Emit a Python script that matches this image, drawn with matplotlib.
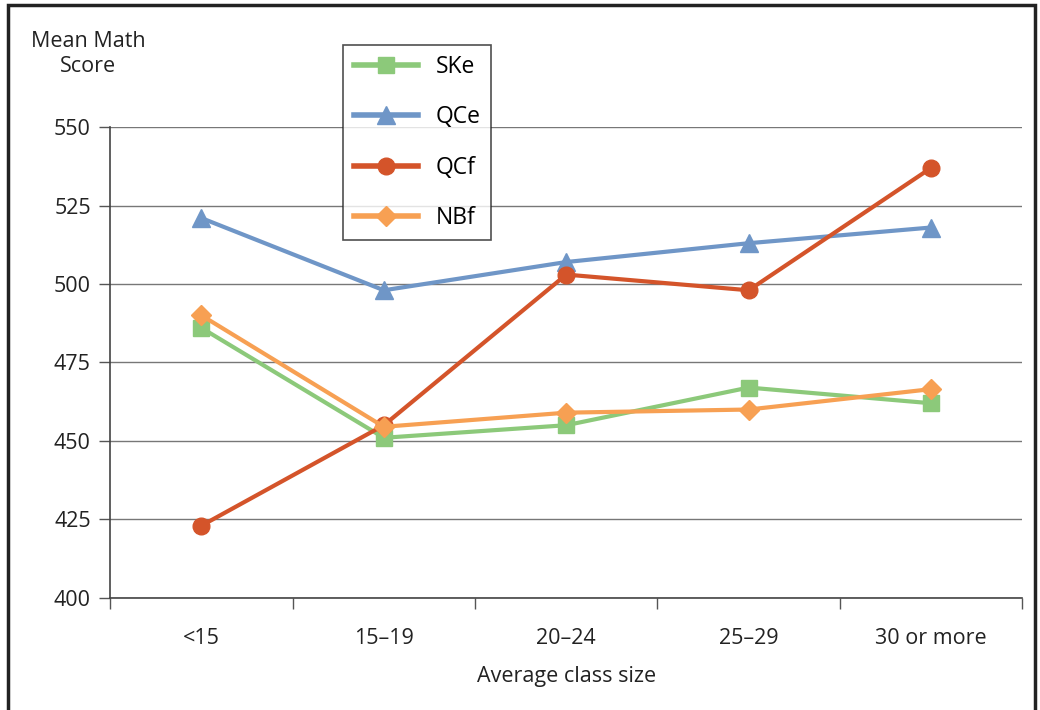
import matplotlib.pyplot as plt
from matplotlib.patches import Rectangle

plt.rcParams['font.family'] = ['Open Sans', 'DejaVu Sans']

# Data
categories = ['<15', '15\u201319', '20\u201324', '25\u201329', '30 or more']
ske = [486, 451, 455, 467, 462]
qce = [521, 498, 507, 513, 518]
qcf = [423, 455, 503, 498, 537]
nbf = [490, 454.5, 459, 460, 466.5]

fig = plt.figure(figsize=(10.4, 7.1), dpi=100)
ax = fig.add_axes([0.106, 0.158, 0.877, 0.663])

x = range(len(categories))
ax.plot(x, ske, color='#8cc97a', lw=3, marker='s', ms=12, label='SKe', zorder=3)
ax.plot(x, qce, color='#6f96c7', lw=3, marker='^', ms=13, label='QCe', zorder=3)
ax.plot(x, qcf, color='#d4542a', lw=3, marker='o', ms=12, label='QCf', zorder=4)
ax.plot(x, nbf, color='#f7a053', lw=3, marker='D', ms=10, label='NBf', zorder=5)

ax.set_xlim(-0.5, 4.5)
ax.set_ylim(400, 550)
ax.set_yticks(range(400, 551, 25))
ax.set_xticks([i - 0.5 for i in range(6)])
ax.set_xticklabels([])
ax.set_xticks(list(x), minor=True)
ax.set_xticklabels(categories, minor=True)
ax.tick_params(axis='x', which='major', length=8, color='#555555', width=1)
ax.tick_params(axis='x', which='minor', length=0, pad=22, labelsize=15.5, labelcolor='#222222')
ax.tick_params(axis='y', length=8, color='#555555', width=1, labelsize=15.5, labelcolor='#222222', pad=6)
ax.yaxis.grid(True, color='#777777', lw=1)
ax.set_axisbelow(True)
for s in ['top', 'right']:
    ax.spines[s].set_visible(False)
for s in ['left', 'bottom']:
    ax.spines[s].set_color('#444444')
    ax.spines[s].set_linewidth(1.2)

ax.set_xlabel('Average class size', fontsize=15.5, color='#222222', labelpad=12)
fig.text(0.085, 0.924, 'Mean Math\nScore', fontsize=15.5, color='#222222',
         ha='center', va='center', linespacing=1.3)

leg = fig.legend(loc='upper left', bbox_to_anchor=(0.33, 0.937), fontsize=16.5,
                 frameon=True, fancybox=False, edgecolor='#222222', borderaxespad=0,
                 handlelength=2.8, labelspacing=1.15, borderpad=0.45, handletextpad=0.8)
leg.get_frame().set_linewidth(1.2)
for line in leg.get_lines():
    line.set_linewidth(4)

fig.patches.append(Rectangle((0.008, -0.05), 0.987, 1.043, transform=fig.transFigure,
                             fill=False, edgecolor='#222222', lw=2.5))

fig.savefig('out.png', dpi=100)
